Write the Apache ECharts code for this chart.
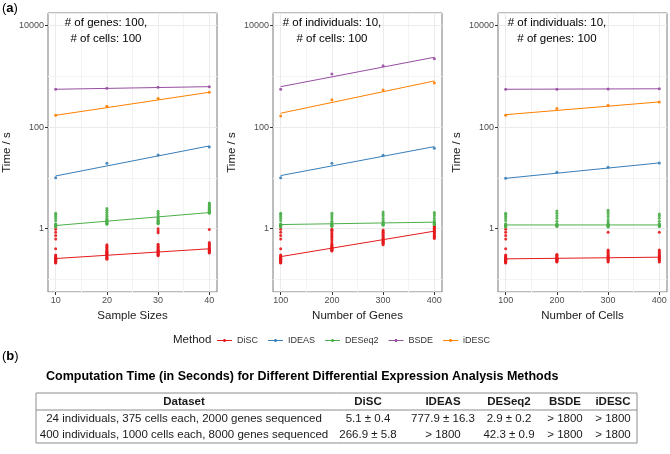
<!DOCTYPE html>
<html>
<head>
<meta charset="utf-8">
<script src="https://cdn.jsdelivr.net/npm/echarts@6/dist/echarts.min.js"></script>
<style>
  html, body { margin: 0; padding: 0; background: #fff; }
  #chart { width: 670px; height: 454px; }
</style>
</head>
<body>
<div id="chart"></div>
<script>
// methods + palette (Set1)
const methods = ['DiSC', 'IDEAS', 'DESeq2', 'BSDE', 'iDESC']
const colors = ['#E41A1C', '#377EB8', '#4DAF4A', '#984EA3', '#FF7F00']

const xSample = [10, 20, 30, 40]
const xGenes = [100, 200, 300, 400]
const xCells = [100, 200, 300, 400]

// shared setting: 10 individuals, 100 genes, 100 cells
const discBase = [0.21, 0.215, 0.22, 0.225, 0.23, 0.235, 0.24, 0.245, 0.25, 0.255, 0.26, 0.27, 0.28, 0.29, 0.3, 0.4, 0.62, 0.73, 0.85, 0.97]
const deseqBase = [1.08, 1.1, 1.12, 1.14, 1.16, 1.18, 1.2, 1.25, 1.45, 1.6, 1.75, 1.9, 2.0]

// panel 1: sample sizes
const discSample = [
  discBase,
  [0.25, 0.26, 0.27, 0.28, 0.29, 0.3, 0.31, 0.32, 0.33, 0.34, 0.35, 0.36, 0.38, 0.4, 0.42, 0.44, 0.46, 0.48],
  [0.29, 0.3, 0.31, 0.32, 0.33, 0.34, 0.35, 0.36, 0.37, 0.38, 0.4, 0.42, 0.44, 0.46, 0.49, 0.83, 0.9, 0.99],
  [0.33, 0.34, 0.35, 0.36, 0.37, 0.38, 0.39, 0.4, 0.42, 0.44, 0.46, 0.48, 0.5, 0.53, 0.96]
]
const deseqSample = [
  deseqBase,
  [1.22, 1.25, 1.28, 1.3, 1.35, 1.4, 1.45, 1.5, 1.6, 1.75, 1.9, 2.1, 2.3, 2.5],
  [1.24, 1.27, 1.3, 1.35, 1.4, 1.45, 1.5, 1.6, 1.7, 1.85, 2.0, 2.2],
  [2.0, 2.05, 2.1, 2.2, 2.3, 2.4, 2.5, 2.6, 2.7, 2.8, 2.95, 3.1, 3.2]
]
const ideasSample = [10.0, 19.4, 28.3, 40.7]
const bsdeSample = [558, 584, 611, 628]
const idescSample = [171, 258, 365, 487]
// fitted lines [start, end], in method order
const fitSample = [[0.257, 0.4], [10.9, 42.6], [1.15, 2.07], [558, 628], [171, 487]]

// panel 2: number of genes
const discGenes = [
  discBase,
  [0.36, 0.37, 0.38, 0.39, 0.4, 0.41, 0.42, 0.43, 0.44, 0.46, 0.48, 0.5, 0.55, 0.6, 0.65, 0.7, 0.75, 0.8, 0.87, 0.93, 0.97],
  [0.48, 0.5, 0.52, 0.54, 0.56, 0.58, 0.6, 0.62, 0.65, 0.68, 0.72, 0.76, 0.8, 0.85, 0.9, 0.94],
  [0.64, 0.67, 0.7, 0.73, 0.76, 0.8, 0.84, 0.88, 0.92, 0.96, 1.0, 1.05, 1.1, 1.13]
]
const deseqGenes = [
  deseqBase,
  [1.1, 1.12, 1.15, 1.18, 1.2, 1.25, 1.3, 1.4, 1.55, 1.7, 1.85, 2.0],
  [1.17, 1.2, 1.22, 1.25, 1.3, 1.35, 1.45, 1.6, 1.8, 1.95, 2.13],
  [1.2, 1.22, 1.25, 1.28, 1.3, 1.35, 1.45, 1.6, 1.8, 1.95, 2.07]
]
const ideasGenes = [10.0, 19.4, 27.9, 38.4]
const bsdeGenes = [558, 1117, 1630, 2239]
const idescGenes = [166, 347, 541, 743]
const fitGenes = [[0.28, 0.89], [11.1, 41.3], [1.2, 1.34], [628, 2384], [188, 814]]

// panel 3: number of cells
const discCells = [
  discBase,
  [0.22, 0.225, 0.23, 0.235, 0.24, 0.245, 0.25, 0.255, 0.26, 0.27, 0.28, 0.29, 0.3, 0.31],
  [0.22, 0.23, 0.24, 0.25, 0.26, 0.27, 0.28, 0.29, 0.3, 0.32, 0.34, 0.36, 0.38, 0.85],
  [0.22, 0.23, 0.24, 0.25, 0.26, 0.27, 0.28, 0.29, 0.3, 0.32, 0.34, 0.36, 0.38, 0.85]
]
const deseqCells = [
  deseqBase,
  [1.1, 1.12, 1.14, 1.16, 1.18, 1.2, 1.25, 1.4, 1.6, 1.8, 2.0, 2.23],
  [1.07, 1.1, 1.12, 1.15, 1.18, 1.2, 1.25, 1.35, 1.5, 1.7, 1.9, 2.1, 2.3],
  [1.1, 1.12, 1.15, 1.18, 1.2, 1.25, 1.4, 1.6, 1.8, 1.95]
]
const ideasCells = [9.8, 12.9, 16.2, 19.7]
const bsdeCells = [558, 560, 565, 570]
const idescCells = [171, 232, 270, 314]
const fitCells = [[0.253, 0.273], [9.8, 19.7], [1.18, 1.18], [558, 570], [176, 314]]

// table (b)
const tableTitle = 'Computation Time (in Seconds) for Different Differential Expression Analysis Methods'
const tableHeader = ['Dataset', 'DiSC', 'IDEAS', 'DESeq2', 'BSDE', 'iDESC']
const tableRow1 = ['24 individuals, 375 cells each, 2000 genes sequenced', '5.1 ± 0.4', '777.9 ± 16.3', '2.9 ± 0.2', '> 1800', '> 1800']
const tableRow2 = ['400 individuals, 1000 cells each, 8000 genes sequenced', '266.9 ± 5.8', '> 1800', '42.3 ± 0.9', '> 1800', '> 1800']

const FONT = 'Liberation Sans, Arial, sans-serif'
// y range: 0.1 .. 10000 expanded 5% on the log scale (ggplot style)
const yMin = Math.pow(10, -1.25)
const yMax = Math.pow(10, 4.25)
const plotTop = 13
const plotH = 279
const decade = plotH / 5.5

const panels = [
  { left: 48, xMin: 8.5, xMax: 41.5, xs: xSample, major: [10, 20, 30, 40], minor: [15, 25, 35], xName: 'Sample Sizes',
    note: '# of genes: 100,\n# of cells: 100', noteX: 106,
    disc: discSample, deseq: deseqSample, single: [ideasSample, bsdeSample, idescSample], fit: fitSample },
  { left: 273, xMin: 85, xMax: 415, xs: xGenes, major: [100, 200, 300, 400], minor: [150, 250, 350], xName: 'Number of Genes',
    note: '# of individuals: 10,\n# of cells: 100', noteX: 332,
    disc: discGenes, deseq: deseqGenes, single: [ideasGenes, bsdeGenes, idescGenes], fit: fitGenes },
  { left: 498, xMin: 85, xMax: 415, xs: xCells, major: [100, 200, 300, 400], minor: [150, 250, 350], xName: 'Number of Cells',
    note: '# of individuals: 10,\n# of genes: 100', noteX: 557,
    disc: discCells, deseq: deseqCells, single: [ideasCells, bsdeCells, idescCells], fit: fitCells }
]

const grid = []
const xAxis = []
const yAxis = []
const series = []
const graphic = []

const stripPoints = (xs, strips) => strips.flatMap((vals, k) => vals.map(v => [xs[k], v]))

panels.forEach((p, i) => {
  grid.push({ left: p.left, top: plotTop, width: 169, height: plotH, show: true, borderColor: '#7a7a7a', borderWidth: 1, backgroundColor: '#fff', z: 0 })

  xAxis.push({
    type: 'value', gridIndex: i, min: p.xMin, max: p.xMax, z: 1,
    name: p.xName, nameLocation: 'middle', nameGap: 16,
    nameTextStyle: { fontSize: 11.5, color: '#1a1a1a', fontFamily: FONT },
    axisLine: { show: false },
    axisTick: { length: 3, customValues: p.major, lineStyle: { color: '#333' } },
    axisLabel: { customValues: p.major, margin: 4, fontSize: 9, color: '#4d4d4d', fontFamily: FONT },
    splitLine: { lineStyle: { color: '#ebebeb', width: 1 } }
  })
  xAxis.push({
    type: 'value', gridIndex: i, min: p.xMin, max: p.xMax, position: 'bottom', z: 0,
    axisLine: { show: false },
    axisTick: { show: false, customValues: p.minor },
    axisLabel: { show: false },
    splitLine: { lineStyle: { color: '#f3f3f3', width: 1 } }
  })

  yAxis.push({
    type: 'log', logBase: 100, gridIndex: i, min: yMin, max: yMax, z: 1,
    name: 'Time / s', nameLocation: 'middle', nameGap: 35,
    nameTextStyle: { fontSize: 11.5, color: '#1a1a1a', fontFamily: FONT },
    axisLine: { show: false },
    axisTick: { show: false },
    axisLabel: { show: false },
    splitLine: { lineStyle: { color: '#ebebeb', width: 1 } }
  })
  yAxis.push({
    type: 'log', logBase: 10, gridIndex: i, min: yMin, max: yMax, position: 'left', z: 0,
    axisLine: { show: false },
    axisTick: { show: false },
    axisLabel: { show: false },
    splitLine: { lineStyle: { color: '#f3f3f3', width: 1 } }
  })

  const xi = 2 * i
  const yi = 2 * i
  methods.forEach((m, k) => {
    // fitted line
    series.push({
      type: 'line', name: m, xAxisIndex: xi, yAxisIndex: yi,
      data: [[p.xs[0], p.fit[k][0]], [p.xs[3], p.fit[k][1]]],
      showSymbol: false, symbol: 'circle', symbolSize: 3,
      lineStyle: { width: 1, color: colors[k] }, itemStyle: { color: colors[k] },
      z: 3, silent: true
    })
  })
  const pts = [
    stripPoints(p.xs, p.disc),
    p.single[0].map((v, k) => [p.xs[k], v]),
    stripPoints(p.xs, p.deseq),
    p.single[1].map((v, k) => [p.xs[k], v]),
    p.single[2].map((v, k) => [p.xs[k], v])
  ]
  methods.forEach((m, k) => {
    series.push({
      type: 'scatter', name: m, xAxisIndex: xi, yAxisIndex: yi,
      data: pts[k], symbolSize: 3,
      itemStyle: { color: colors[k], opacity: 0.9 },
      z: 2, silent: true
    })
  })

  graphic.push({
    type: 'text', x: p.noteX, y: 31, z: 100,
    style: { text: p.note, align: 'center', verticalAlign: 'middle', fontSize: 11.5, lineHeight: 16, fill: '#000', fontFamily: FONT }
  })
})

// tick/label axes: span exactly 1 .. 10000 so only the labelled ticks are drawn
panels.forEach((p, i) => {
  const gi = panels.length + i
  grid.push({ left: p.left, top: plotTop + 0.25 * decade, width: 169, height: 4 * decade, show: false })
  xAxis.push({ type: 'value', gridIndex: gi, min: 0, max: 1, show: false })
  yAxis.push({
    type: 'log', logBase: 100, gridIndex: gi, min: 1, max: 10000, z: 2,
    axisLine: { show: false },
    axisTick: { length: 3, lineStyle: { color: '#333' } },
    axisLabel: { margin: 4, fontSize: 9, color: '#4d4d4d', fontFamily: FONT, formatter: v => String(Math.round(v)) },
    splitLine: { show: false }
  })
})

// panel labels
graphic.push({
  type: 'text', x: 2, y: 8,
  style: { text: '({b|a})', verticalAlign: 'middle', fontSize: 13, fill: '#000', fontFamily: FONT,
    rich: { b: { fontWeight: 'bold', fontSize: 13, fontFamily: FONT } } }
})
graphic.push({
  type: 'text', x: 2, y: 356,
  style: { text: '({b|b})', verticalAlign: 'middle', fontSize: 13, fill: '#000', fontFamily: FONT,
    rich: { b: { fontWeight: 'bold', fontSize: 13, fontFamily: FONT } } }
})
graphic.push({
  type: 'text', x: 173, y: 340,
  style: { text: 'Method', verticalAlign: 'middle', fontSize: 11.5, fill: '#1a1a1a', fontFamily: FONT }
})

// table
const colX = [184, 368, 443, 509, 565, 613]
const tLeft = 36
const tRight = 637
const tTop = 393
const tHead = 410
const tBottom = 443
graphic.push({
  type: 'text', x: 46, y: 377,
  style: { text: tableTitle, verticalAlign: 'middle', fontSize: 12.5, fontWeight: 'bold', fill: '#000', fontFamily: FONT }
})
;[[tLeft, tTop, tRight, tTop], [tLeft, tHead, tRight, tHead], [tLeft, tBottom, tRight, tBottom],
  [tLeft, tTop, tLeft, tBottom], [tRight, tTop, tRight, tBottom]].forEach(s => {
  graphic.push({
    type: 'line', shape: { x1: s[0], y1: s[1], x2: s[2], y2: s[3] },
    style: { stroke: '#8c8c8c', lineWidth: 1 }
  })
})
const rowY = [401.5, 419, 434.5]
;[tableHeader, tableRow1, tableRow2].forEach((row, r) => {
  row.forEach((txt, c) => {
    graphic.push({
      type: 'text', x: colX[c], y: rowY[r],
      style: { text: txt, align: 'center', verticalAlign: 'middle', fontSize: 11.5,
        fontWeight: r === 0 ? 'bold' : 'normal', fill: '#1a1a1a', fontFamily: FONT }
    })
  })
})

const chart = echarts.init(document.getElementById('chart'))
chart.setOption({
  animation: false,
  backgroundColor: '#fff',
  textStyle: { fontFamily: FONT },
  grid,
  xAxis,
  yAxis,
  legend: {
    data: methods, left: 217, top: 336, padding: 0,
    icon: 'path://M0,3 L15,3 L15,4 L0,4 Z M6.5,2 L8.5,2 L8.5,5 L6.5,5 Z',
    itemWidth: 15, itemHeight: 7, itemGap: 10,
    textStyle: { fontSize: 9, color: '#333', fontFamily: FONT }
  },
  series,
  graphic
})
</script>
</body>
</html>
